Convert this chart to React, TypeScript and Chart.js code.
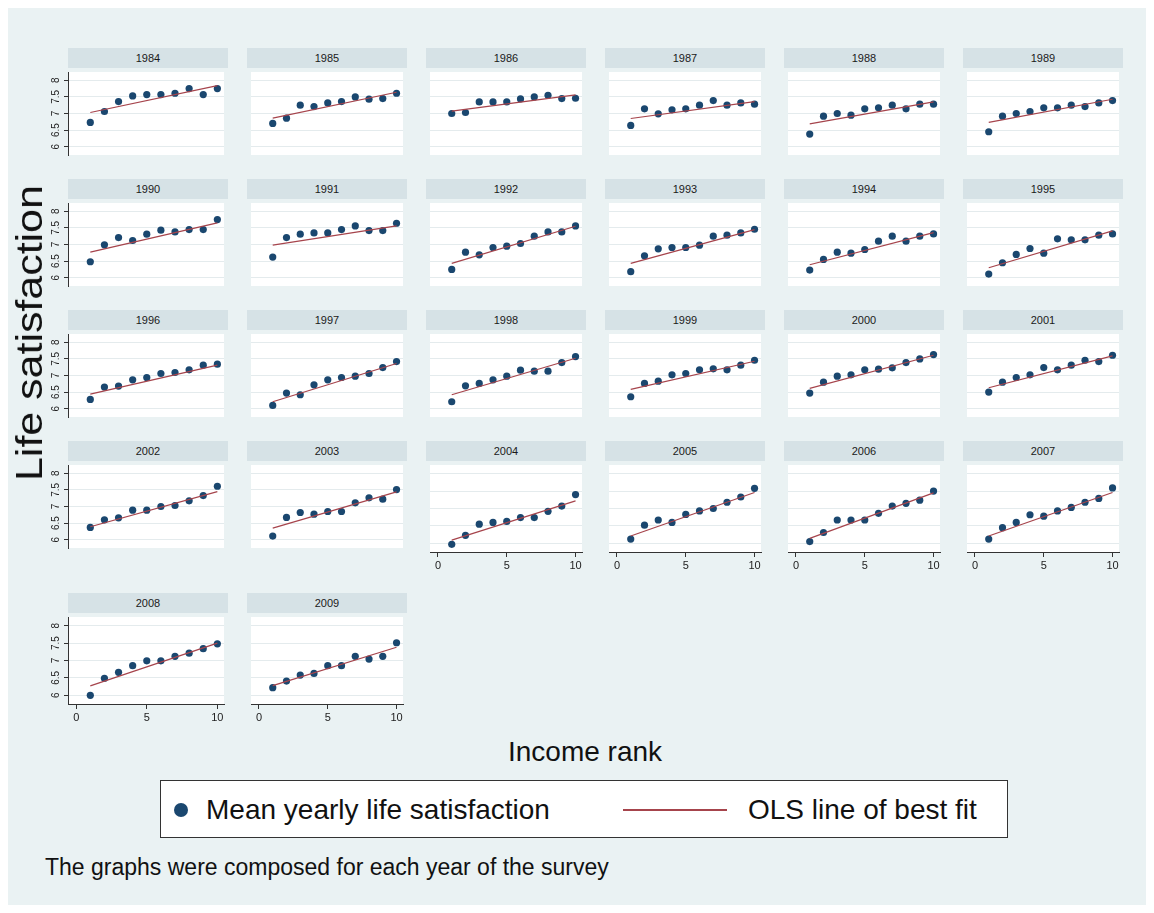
import React, { useEffect, useRef } from "react";
import { Chart, registerables } from "chart.js";

Chart.register(...registerables);

const FONT = "'Liberation Sans', Arial, Helvetica, sans-serif";
const BG = "#eaf2f3";
const STRIP = "#d6e2e6";
const NAVY = "#1a476f";
const MAROON = "#a6444c";
const GRID = "#e4ebed";
const AXIS = "#333333";

const years = [
  1984, 1985, 1986, 1987, 1988, 1989, 1990, 1991, 1992, 1993, 1994, 1995, 1996,
  1997, 1998, 1999, 2000, 2001, 2002, 2003, 2004, 2005, 2006, 2007, 2008, 2009,
];
const incomeRank = [1, 2, 3, 4, 5, 6, 7, 8, 9, 10];
const yTickValues = [6, 6.5, 7, 7.5, 8];
const xTickValues = [0, 5, 10];

const ls1984 = [6.73, 7.06, 7.36, 7.53, 7.57, 7.57, 7.61, 7.75, 7.57, 7.75];
const ls1985 = [6.7, 6.86, 7.25, 7.21, 7.32, 7.36, 7.5, 7.43, 7.45, 7.61];
const ls1986 = [7.0, 7.03, 7.35, 7.35, 7.35, 7.44, 7.5, 7.55, 7.45, 7.46];
const ls1987 = [6.64, 7.14, 6.99, 7.11, 7.14, 7.25, 7.39, 7.25, 7.32, 7.28];
const ls1988 = [6.38, 6.92, 7.0, 6.95, 7.14, 7.17, 7.25, 7.14, 7.28, 7.28];
const ls1989 = [6.45, 6.92, 7.0, 7.06, 7.17, 7.17, 7.25, 7.21, 7.32, 7.39];
const ls1990 = [6.48, 6.99, 7.21, 7.12, 7.31, 7.43, 7.38, 7.45, 7.45, 7.75];
const ls1991 = [6.62, 7.21, 7.31, 7.35, 7.35, 7.45, 7.56, 7.42, 7.42, 7.64];
const ls1992 = [6.25, 6.77, 6.69, 6.91, 6.95, 7.03, 7.25, 7.38, 7.38, 7.56];
const ls1993 = [6.18, 6.66, 6.87, 6.91, 6.91, 6.98, 7.25, 7.28, 7.35, 7.46];
const ls1994 = [6.23, 6.55, 6.77, 6.74, 6.85, 7.1, 7.25, 7.1, 7.25, 7.32];
const ls1995 = [6.11, 6.45, 6.7, 6.88, 6.74, 7.17, 7.14, 7.14, 7.28, 7.32];
const ls1996 = [6.28, 6.65, 6.68, 6.87, 6.94, 7.06, 7.09, 7.17, 7.31, 7.34];
const ls1997 = [6.1, 6.47, 6.42, 6.72, 6.87, 6.94, 6.98, 7.06, 7.24, 7.42];
const ls1998 = [6.21, 6.69, 6.76, 6.87, 6.98, 7.16, 7.13, 7.13, 7.39, 7.57];
const ls1999 = [6.36, 6.76, 6.83, 7.02, 7.06, 7.17, 7.2, 7.17, 7.31, 7.46];
const ls2000 = [6.47, 6.8, 6.98, 7.02, 7.17, 7.19, 7.23, 7.39, 7.5, 7.63];
const ls2001 = [6.5, 6.8, 6.94, 7.02, 7.24, 7.17, 7.31, 7.46, 7.42, 7.61];
const ls2002 = [6.37, 6.6, 6.66, 6.89, 6.89, 7.0, 7.03, 7.17, 7.33, 7.61];
const ls2003 = [6.11, 6.67, 6.82, 6.77, 6.85, 6.85, 7.11, 7.26, 7.22, 7.51];
const ls2004 = [5.97, 6.23, 6.55, 6.6, 6.63, 6.74, 6.74, 6.92, 7.07, 7.4];
const ls2005 = [6.12, 6.52, 6.67, 6.6, 6.83, 6.93, 7.0, 7.18, 7.33, 7.58];
const ls2006 = [6.05, 6.31, 6.67, 6.67, 6.67, 6.86, 7.07, 7.15, 7.24, 7.5];
const ls2007 = [6.12, 6.45, 6.6, 6.82, 6.78, 6.93, 7.03, 7.18, 7.29, 7.59];
const ls2008 = [6.0, 6.49, 6.66, 6.85, 6.99, 6.99, 7.12, 7.21, 7.34, 7.48];
const ls2009 = [6.22, 6.41, 6.58, 6.63, 6.85, 6.85, 7.12, 7.04, 7.12, 7.51];

// OLS fitted value read at income rank 1 and 10, per year
const fitAtRank1 = [
  7.03, 6.86, 7.07, 6.85, 6.69, 6.73, 6.77, 6.98, 6.43, 6.43, 6.39, 6.3, 6.44,
  6.21, 6.42, 6.58, 6.61, 6.63, 6.39, 6.35, 6.09, 6.21, 6.14, 6.21, 6.27, 6.28,
];
const fitAtRank10 = [
  7.84, 7.64, 7.56, 7.36, 7.35, 7.43, 7.65, 7.56, 7.55, 7.45, 7.36, 7.41, 7.31,
  7.36, 7.52, 7.43, 7.61, 7.59, 7.45, 7.44, 7.22, 7.46, 7.45, 7.46, 7.5, 7.38,
];

const yearValues = [
  ls1984, ls1985, ls1986, ls1987, ls1988, ls1989, ls1990, ls1991, ls1992,
  ls1993, ls1994, ls1995, ls1996, ls1997, ls1998, ls1999, ls2000, ls2001,
  ls2002, ls2003, ls2004, ls2005, ls2006, ls2007, ls2008, ls2009,
];

// layout (container coordinates; container sits at the 8px body margin)
const COL_STEP = 179;
const FIRST_LEFT = 60;
const ROW_TOPS = [40, 171, 302, 433, 585];
const PANEL_W = 160;
const STRIP_H = 20;
const PLOT_H = 91;

const plotBgPlugin = {
  id: "plotBg",
  beforeDraw(chart: any) {
    const { ctx, chartArea: a } = chart;
    ctx.save();
    ctx.fillStyle = "#ffffff";
    ctx.fillRect(a.left, a.top, a.width, a.height);
    ctx.restore();
  },
};

function Panel({ idx }: { idx: number }) {
  const ref = useRef<HTMLCanvasElement>(null);
  const col = idx % 6;
  const row = Math.floor(idx / 6);
  const showY = col === 0;
  const showX = row === 4 || (row === 3 && col >= 2);
  const plotLeft = FIRST_LEFT + col * COL_STEP;
  const stripTop = ROW_TOPS[row];
  const plotTop = stripTop + STRIP_H;
  const yW = showY ? 34 : 0;
  const xH = showX ? 24 : 0;

  useEffect(() => {
    if (!ref.current) return;
    const vals = yearValues[idx];
    const chart = new Chart(ref.current, {
      type: "scatter",
      data: {
        datasets: [
          {
            type: "line",
            label: "OLS line of best fit",
            data: [
              { x: incomeRank[0], y: fitAtRank1[idx] },
              { x: incomeRank[incomeRank.length - 1], y: fitAtRank10[idx] },
            ],
            borderColor: MAROON,
            borderWidth: 1.2,
            pointRadius: 0,
            fill: false,
            order: 0,
          } as any,
          {
            label: "Mean yearly life satisfaction",
            data: incomeRank.map((r, i) => ({ x: r, y: vals[i] })),
            backgroundColor: NAVY,
            borderWidth: 0,
            pointRadius: 3.6,
            order: 1,
          },
        ],
      },
      options: {
        animation: false,
        responsive: false,
        maintainAspectRatio: false,
        layout: { padding: 0 },
        plugins: {
          legend: { display: false },
          tooltip: { enabled: false },
          title: { display: false },
        },
        scales: {
          x: {
            type: "linear",
            min: -0.58,
            max: 10.47,
            afterBuildTicks: (s: any) => {
              s.ticks = xTickValues.map((v) => ({ value: v }));
            },
            afterFit: (s: any) => {
              s.height = xH;
              s.paddingLeft = 0;
              s.paddingRight = 0;
            },
            grid: {
              display: showX,
              drawOnChartArea: false,
              tickLength: 5,
              tickColor: AXIS,
            },
            border: { display: showX, color: AXIS, width: 1 },
            ticks: {
              display: showX,
              autoSkip: false,
              maxRotation: 0,
              padding: 2,
              color: "#222",
              font: { family: FONT, size: 11 },
              callback: (v: any) => String(v),
            },
          },
          y: {
            type: "linear",
            min: 5.75,
            max: 8.25,
            afterBuildTicks: (s: any) => {
              s.ticks = yTickValues.map((v) => ({ value: v }));
            },
            afterFit: (s: any) => {
              s.width = yW;
              s.paddingTop = 0;
              s.paddingBottom = 0;
            },
            grid: {
              display: true,
              drawOnChartArea: true,
              drawTicks: showY,
              tickLength: 4,
              color: GRID,
              tickColor: AXIS,
            },
            border: { display: showY, color: AXIS, width: 1 },
            ticks: {
              display: showY,
              autoSkip: false,
              minRotation: 90,
              maxRotation: 90,
              crossAlign: "center",
              padding: 1,
              color: "#222",
              font: { family: FONT, size: 10 },
              callback: (v: any) => String(v),
            },
          },
        },
      },
      plugins: [plotBgPlugin],
    });
    return () => chart.destroy();
  }, [idx]);

  return (
    <>
      <div
        style={{
          position: "absolute",
          left: plotLeft,
          top: stripTop,
          width: PANEL_W,
          height: STRIP_H,
          background: STRIP,
          color: "#1a1a1a",
          fontFamily: FONT,
          fontSize: 11,
          lineHeight: `${STRIP_H}px`,
          textAlign: "center",
        }}
      >
        {years[idx]}
      </div>
      <canvas
        ref={ref}
        width={PANEL_W + yW}
        height={PLOT_H + xH}
        style={{
          position: "absolute",
          left: plotLeft - yW,
          top: plotTop,
          width: PANEL_W + yW,
          height: PLOT_H + xH,
        }}
      />
    </>
  );
}

export default function App() {
  return (
    <div
      style={{
        position: "relative",
        width: 1138,
        height: 897,
        background: BG,
        fontFamily: FONT,
        overflow: "hidden",
      }}
    >
      {years.map((y, i) => (
        <Panel key={y} idx={i} />
      ))}

      <div
        style={{
          position: "absolute",
          left: 22,
          top: 325,
          transform: "translate(-50%, -50%) rotate(-90deg) scaleX(1.16)",
          fontSize: 37,
          color: "#111",
          whiteSpace: "nowrap",
        }}
      >
        Life satisfaction
      </div>

      <div
        style={{
          position: "absolute",
          left: 577,
          top: 744,
          transform: "translate(-50%, -50%)",
          fontSize: 28,
          color: "#111",
          whiteSpace: "nowrap",
        }}
      >
        Income rank
      </div>

      <div
        style={{
          position: "absolute",
          left: 152,
          top: 772,
          width: 848,
          height: 58,
          boxSizing: "border-box",
          background: "#ffffff",
          border: "1px solid #333",
        }}
      >
        <div
          style={{
            position: "absolute",
            left: 13,
            top: 22,
            width: 14,
            height: 14,
            borderRadius: "50%",
            background: NAVY,
          }}
        />
        <div
          style={{
            position: "absolute",
            left: 45,
            top: 29,
            transform: "translateY(-50%)",
            fontSize: 28,
            color: "#111",
            whiteSpace: "nowrap",
          }}
        >
          Mean yearly life satisfaction
        </div>
        <div
          style={{
            position: "absolute",
            left: 462,
            top: 28,
            width: 104,
            height: 1.5,
            background: MAROON,
          }}
        />
        <div
          style={{
            position: "absolute",
            left: 587,
            top: 29,
            transform: "translateY(-50%)",
            fontSize: 28,
            color: "#111",
            whiteSpace: "nowrap",
          }}
        >
          OLS line of best fit
        </div>
      </div>

      <div
        style={{
          position: "absolute",
          left: 37,
          top: 859,
          transform: "translateY(-50%)",
          fontSize: 23,
          color: "#111",
          whiteSpace: "nowrap",
        }}
      >
        The graphs were composed for each year of the survey
      </div>
    </div>
  );
}
